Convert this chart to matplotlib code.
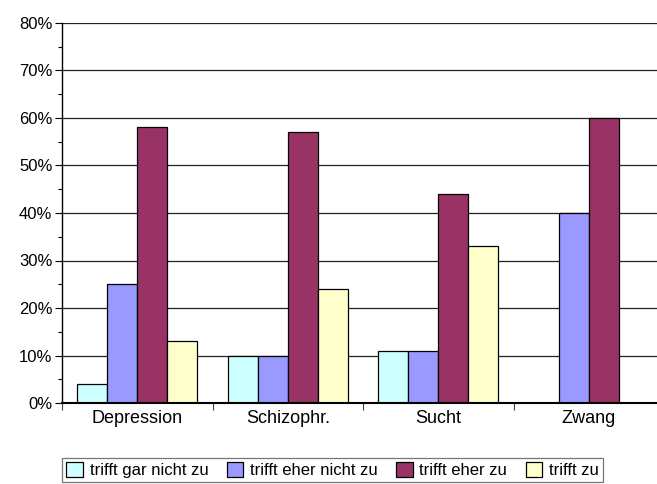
import numpy as np
import matplotlib.pyplot as plt
from matplotlib.ticker import MultipleLocator, PercentFormatter

plt.rcParams['font.family'] = ['Liberation Sans', 'DejaVu Sans']

categories = ['Depression', 'Schizophr.', 'Sucht', 'Zwang']
series_names = ['trifft gar nicht zu', 'trifft eher nicht zu', 'trifft eher zu', 'trifft zu']
values = [
    [4, 10, 11, 0],
    [25, 10, 11, 40],
    [58, 57, 44, 60],
    [13, 24, 33, 0],
]
colors = ['#CCFFFF', '#9999FF', '#993366', '#FFFFCC']

fig = plt.figure(figsize=(6.57, 4.84), dpi=100)
ax = fig.add_axes([62 / 657, 81 / 484, 602 / 657, 380 / 484])

x = np.arange(len(categories))
w = 0.2
for i, (name, vals, c) in enumerate(zip(series_names, values, colors)):
    ax.bar(x - 0.3 + i * w, vals, width=w, color=c, edgecolor='black',
           linewidth=0.9, label=name, zorder=3)

ax.set_xlim(-0.5, len(categories) - 0.5)
ax.set_ylim(0, 80)
ax.yaxis.set_major_locator(MultipleLocator(10))
ax.yaxis.set_minor_locator(MultipleLocator(5))
ax.yaxis.set_major_formatter(PercentFormatter(decimals=0))
ax.grid(axis='y', which='major', color='#222222', linewidth=0.9, zorder=0)

# category separators as ticks, names centred below each group
ax.set_xticks(np.arange(len(categories) + 1) - 0.5)
ax.set_xticklabels([])
ax.set_xticks(x, minor=True)
ax.set_xticklabels(categories, minor=True, fontsize=13)
ax.tick_params(axis='x', which='major', length=5, width=0.8, color='#444444')
ax.tick_params(axis='x', which='minor', length=0, pad=5)
ax.tick_params(axis='y', which='major', length=5, width=0.8, labelsize=12, pad=2)
ax.tick_params(axis='y', which='minor', length=3, width=0.8)

for s in ['top', 'right']:
    ax.spines[s].set_visible(False)
ax.spines['left'].set_linewidth(1.0)
ax.spines['bottom'].set_linewidth(1.5)
ax.spines['bottom'].set_zorder(4)

leg = fig.legend(loc='center left', bbox_to_anchor=(62 / 657, 1 - 470 / 484),
                 ncol=4, fontsize=12, frameon=True, fancybox=False,
                 handlelength=1.0, handleheight=1.0, handletextpad=0.4,
                 columnspacing=1.1, borderpad=0.25, borderaxespad=0)
leg.get_frame().set_edgecolor('#555555')
leg.get_frame().set_linewidth(0.9)

fig.savefig('out.png', dpi=100)
